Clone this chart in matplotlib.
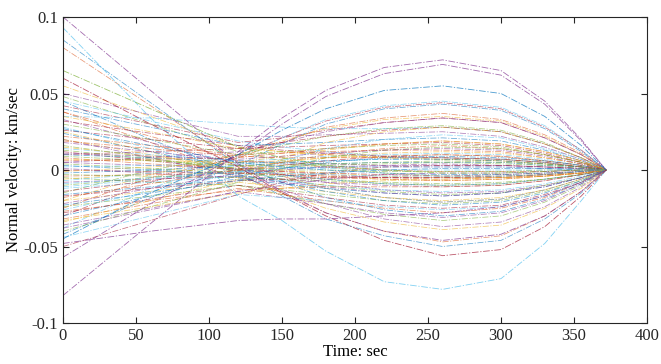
import numpy as np
import matplotlib
matplotlib.use('Agg')
import matplotlib.pyplot as plt

t_knots = [0, 60, 120, 150, 180, 220, 260, 300, 330, 355, 372]

# normal velocity, in 1e-3 km/sec, one row per trajectory
# prominent lines (explicit colours)
key_rows = [
    [100, 52, 4, -14, -28, -40, -46, -42, -30, -14, 0],
    [93, 34, -17, -33, -53, -73, -78, -71, -48, -20, 0],
    [-82, -35, 12, 34, 52, 67, 72, 65, 45, 20, 0],
    [-57, -22, 10, 30, 48, 63, 69, 62, 43, 19, 0],
    [-45, -15, 10, 26, 40, 52, 55, 50, 35, 16, 0],
    [65, 40, 15, 8, 3, 0, -2, -2, -1, 0, 0],
    [60, 30, 2, -15, -30, -46, -56, -52, -37, -17, 0],
    [-48, -40, -33, -32, -32, -30, -28, -24, -17, -8, 0],
]
key_colors = ['#7E2F8E', '#4DBEEE', '#7E2F8E', '#7E2F8E', '#0072BD',
              '#77AC30', '#A2142F', '#7E2F8E']

rows = [
    [85, 44, 3, -8, -18, -26, -30, -27, -19, -9, 0],
    [80, 42, 5, -4, -12, -18, -21, -19, -13, -6, 0],
    [55, 35, 15, 12, 10, 8, 7, 6, 4, 2, 0],
    [50, 36, 22, 22, 23, 24, 25, 22, 15, 7, 0],
    [48, 30, 12, 6, 2, -2, -4, -4, -3, -1, 0],
    [45, 32, 19, 15, 12, 9, 8, 7, 5, 2, 0],
    [42, 30, 18, 21, 26, 31, 34, 31, 21, 10, 0],
    [45, 20, -2, -17, -32, -43, -50, -46, -32, -15, 0],
    [38, 18, -3, -15, -28, -40, -47, -43, -30, -14, 0],
    [25, 12, -5, -15, -25, -34, -39, -36, -25, -12, 0],
    [20, 8, -4, -13, -22, -32, -37, -34, -24, -11, 0],
    [-5, -8, -10, -16, -22, -29, -33, -30, -21, -10, 0],
    [-38, -12, 8, 21, 33, 42, 45, 41, 29, 13, 0],
    [-30, -8, 9, 21, 32, 41, 44, 40, 28, 13, 0],
    [-42, -18, 3, 17, 30, 40, 43, 39, 27, 12, 0],
    [-25, -5, 8, 18, 28, 34, 37, 33, 23, 11, 0],
    [-20, -3, 10, 19, 27, 33, 35, 32, 22, 10, 0],
    [5, 8, 12, 18, 25, 31, 34, 31, 21, 10, 0],
    [-15, 0, 10, 16, 22, 27, 29, 26, 18, 8, 0],
    [35, 34, 30, 28, 27, 27, 28, 25, 17, 8, 0],
    [10, 12, 14, 18, 22, 26, 28, 25, 17, 8, 0],
    [40, 28, 16, 17, 18, 20, 21, 19, 13, 6, 0],
    [38, 22, 6, 4, 2, 0, -1, -1, -1, 0, 0],
    [35, 25, 14, 12, 10, 8, 7, 6, 4, 2, 0],
    [33, 18, 3, -3, -8, -13, -15, -14, -10, -5, 0],
    [30, 20, 10, 12, 14, 16, 17, 15, 10, 5, 0],
    [28, 14, 0, -6, -12, -18, -21, -19, -13, -6, 0],
    [26, 20, 14, 15, 16, 17, 18, 16, 11, 5, 0],
    [24, 12, 0, -3, -6, -9, -10, -9, -6, -3, 0],
    [22, 16, 10, 11, 12, 13, 13, 12, 8, 4, 0],
    [20, 10, 0, -2, -4, -6, -7, -6, -4, -2, 0],
    [18, 12, 6, 5, 4, 3, 3, 3, 2, 1, 0],
    [16, 8, -1, -6, -10, -14, -16, -15, -10, -5, 0],
    [14, 10, 6, 7, 9, 10, 11, 10, 7, 3, 0],
    [12, 6, 0, -1, -2, -3, -4, -3, -2, -1, 0],
    [10, 8, 5, 5, 6, 7, 7, 6, 4, 2, 0],
    [8, 4, 1, -1, -3, -5, -6, -5, -4, -2, 0],
    [7, 6, 5, 6, 8, 9, 10, 9, 6, 3, 0],
    [5, 3, 1, 1, 2, 2, 2, 2, 1, 1, 0],
    [4, 1, -2, -4, -6, -8, -9, -8, -6, -3, 0],
    [2, 3, 4, 5, 6, 7, 8, 7, 5, 2, 0],
    [0, -1, -2, -3, -4, -5, -5, -5, -3, -2, 0],
    [-2, 0, 3, 4, 4, 5, 5, 5, 3, 2, 0],
    [-4, -3, -2, -3, -5, -6, -7, -6, -4, -2, 0],
    [-6, -2, 2, 5, 8, 11, 12, 11, 8, 4, 0],
    [-8, -6, -4, -6, -8, -10, -11, -10, -7, -3, 0],
    [-10, -5, 0, 2, 3, 4, 5, 4, 3, 1, 0],
    [-12, -8, -4, -7, -10, -13, -14, -13, -9, -4, 0],
    [-14, -7, 0, 3, 6, 9, 10, 9, 6, 3, 0],
    [-16, -11, -6, -9, -12, -15, -17, -15, -11, -5, 0],
    [-18, -9, 0, 5, 10, 14, 16, 14, 10, 5, 0],
    [-20, -14, -8, -11, -14, -18, -20, -18, -13, -6, 0],
    [-22, -12, -2, 0, 2, 3, 4, 3, 2, 1, 0],
    [-24, -17, -10, -13, -16, -20, -22, -20, -14, -7, 0],
    [-26, -14, -2, 6, 14, 20, 23, 21, 14, 7, 0],
    [-28, -19, -10, -14, -18, -23, -25, -23, -16, -8, 0],
    [-30, -17, -4, 1, 5, 8, 9, 8, 6, 3, 0],
    [-32, -22, -12, -16, -20, -25, -28, -25, -18, -8, 0],
    [-34, -20, -6, 7, 18, 25, 28, 25, 17, 8, 0],
    [-36, -25, -14, -18, -22, -28, -31, -28, -20, -9, 0],
    [-40, -24, -8, 1, 8, 13, 15, 14, 10, 5, 0],
    [-44, -30, -16, -18, -20, -24, -26, -24, -17, -8, 0],
    [-50, -33, -16, -8, -2, 2, 3, 3, 2, 1, 0],
    [3, 0, -3, -8, -14, -20, -23, -21, -15, -7, 0],
    [6, 7, 8, 11, 14, 17, 19, 17, 12, 6, 0],
    [-1, 2, 5, 9, 13, 17, 19, 17, 12, 6, 0],
    [1, -2, -5, -8, -11, -15, -17, -15, -11, -5, 0],
    [13, 7, 1, 0, 0, -1, -1, -1, 0, 0, 0],
    [-7, -2, 3, 2, 1, 0, 0, 0, 0, 0, 0],
    [32, 24, 16, 13, 11, 9, 8, 7, 5, 2, 0],
    [27, 16, 5, 2, 0, -2, -3, -3, -2, -1, 0],
    [19, 14, 9, 8, 8, 8, 8, 7, 5, 2, 0],
    [15, 9, 3, 0, -2, -4, -5, -5, -3, -2, 0],
    [11, 9, 7, 9, 11, 13, 14, 13, 9, 4, 0],
    [-3, -4, -5, -6, -7, -9, -10, -9, -6, -3, 0],
    [-11, -6, -1, 1, 2, 2, 2, 2, 1, 1, 0],
    [-17, -12, -7, -6, -5, -5, -5, -4, -3, -1, 0],
    [-23, -15, -7, -4, -2, 0, 1, 1, 1, 0, 0],
    [-27, -20, -13, -12, -11, -11, -11, -10, -7, -3, 0],
    [-33, -24, -15, -12, -9, -7, -6, -5, -4, -2, 0],
    [-38, -26, -14, -10, -6, -3, -2, -2, -1, 0, 0],
    [9, 6, 3, 3, 4, 5, 6, 5, 4, 2, 0],
    [-9, -5, -1, -2, -3, -4, -4, -4, -3, -1, 0],
]

matlab_colors = ['#0072BD', '#D95319', '#EDB120', '#7E2F8E',
                 '#77AC30', '#4DBEEE', '#A2142F']

plt.rcParams['font.family'] = ['Liberation Serif', 'DejaVu Serif']

fig = plt.figure(figsize=(6.61, 3.64), dpi=100)
ax = fig.add_axes([0.0953, 0.1126, 0.8835, 0.8407])

dash = (0, (8, 2, 1.5, 2))
t = np.array(t_knots)
for i, r in enumerate(rows):
    ax.plot(t, np.array(r) / 1000.0, color=matlab_colors[i % 7],
            lw=0.55, ls=dash, alpha=0.6)
for r, c in zip(key_rows, key_colors):
    ax.plot(t, np.array(r) / 1000.0, color=c, lw=0.6, ls=dash, alpha=0.7)

ax.set_xlim(0, 400)
ax.set_ylim(-0.1, 0.1)
ax.set_xticks([0, 50, 100, 150, 200, 250, 300, 350, 400])
ax.set_yticks([-0.1, -0.05, 0, 0.05, 0.1])
ax.set_yticklabels(['-0.1', '-0.05', '0', '0.05', '0.1'])
ax.tick_params(direction='in', length=4.5, width=0.8, top=True, right=True,
               labelsize=12, colors='#262626')
for s in ax.spines.values():
    s.set_linewidth(0.8)
    s.set_color('#262626')
ax.set_xlabel('Time: sec', fontsize=12, labelpad=0)
ax.set_ylabel('Normal velocity: km/sec', fontsize=12, labelpad=1)

plt.savefig('out.png', dpi=100)
